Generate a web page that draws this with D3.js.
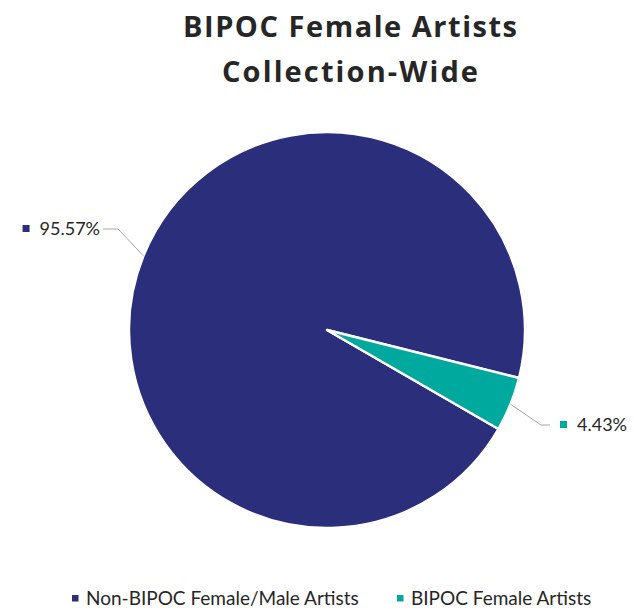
<!DOCTYPE html>
<html><head><meta charset="utf-8">
<script src="https://cdn.jsdelivr.net/npm/d3@7"></script>
<style>body{margin:0;background:#fff;}svg{display:block;}</style>
</head><body>
<svg id="chart" width="634" height="610"></svg>
<script>
const categories = ["Non-BIPOC Female/Male Artists", "BIPOC Female Artists"];
const values = [95.57, 4.43];
const labels = ["95.57%", "4.43%"];
const colors = ["#2B2E7B", "#00A99D"];
const titleLines = ["BIPOC Female Artists", "Collection-Wide"];

const svg = d3.select("#chart");
const cx = 327, cy = 330, r = 198;

// Title
const tl = svg.append("g");
const titleWidths = [334, 256];
titleLines.forEach((t, i) => {
  tl.append("text").attr("x", 350).attr("y", 37 + i * 45)
    .attr("text-anchor", "middle")
    .attr("font-family", "'Open Sans', sans-serif")
    .attr("font-weight", 700).attr("font-size", 29)
    .attr("fill", "#262626")
    .attr("textLength", titleWidths[i]).attr("lengthAdjust", "spacing")
    .text(t);
});

const deg = Math.PI / 180;
const pie = d3.pie().sort(null).startAngle(120 * deg).endAngle(480 * deg);
const arcs = pie(values);
const arc = d3.arc().innerRadius(0).outerRadius(r);

const g = svg.append("g").attr("transform", `translate(${cx},${cy})`);
g.selectAll("path").data(arcs).enter().append("path")
  .attr("d", arc).attr("fill", (d, i) => colors[i])
  .attr("stroke", "#fff").attr("stroke-width", 2.5).attr("stroke-linejoin", "round");

// labels with leader lines
const labelOffsets = [
  {elbow: [-209, -101], end: [-224, -101], text: [-227, -101], anchor: "end"},
  {elbow: [214, 95], end: [223, 95], text: [250, 95], anchor: "start"}
];
arcs.forEach((d, i) => {
  const mid = (d.startAngle + d.endAngle) / 2;
  const p0 = [Math.sin(mid) * r, -Math.cos(mid) * r];
  const o = labelOffsets[i];
  g.append("polyline")
    .attr("points", [p0, o.elbow, o.end].map(p => p.join(",")).join(" "))
    .attr("fill", "none").attr("stroke", "#A6A6A6").attr("stroke-width", 1);
  const t = g.append("text").attr("x", o.text[0]).attr("y", o.text[1] + 6)
    .attr("text-anchor", o.anchor)
    .attr("font-family", "Lato, sans-serif").attr("font-size", 18).attr("fill", "#262626")
    .text(labels[i]);
  const bb = t.node().getBBox();
  g.append("rect").attr("x", bb.x - 17).attr("y", o.text[1] - 4).attr("width", 7).attr("height", 7)
    .attr("fill", colors[i]);
});

// legend
const legendX = [72, 397];
categories.forEach((c, i) => {
  svg.append("rect").attr("x", legendX[i]).attr("y", 595).attr("width", 6.5).attr("height", 6.5).attr("fill", colors[i]);
  svg.append("text").attr("x", legendX[i] + 14).attr("y", 605)
    .attr("font-family", "Lato, sans-serif").attr("font-size", 19).attr("fill", "#262626")
    .text(c);
});
</script>
</body></html>
